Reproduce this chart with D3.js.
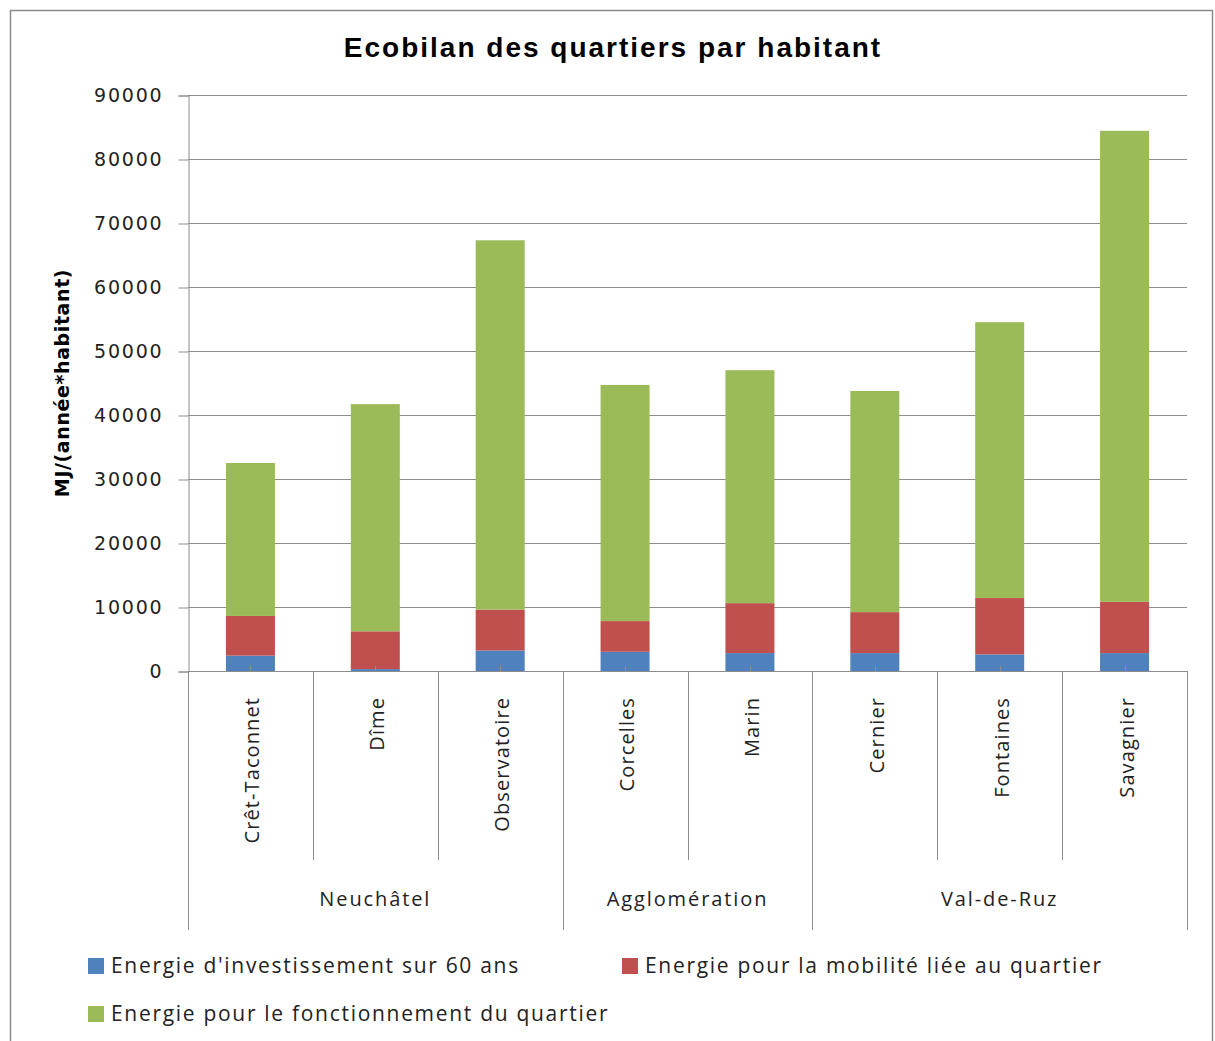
<!DOCTYPE html>
<html>
<head>
<meta charset="utf-8">
<script src="https://cdn.jsdelivr.net/npm/d3@7"></script>
<style>
  html, body { margin: 0; padding: 0; background: #fff; }
  svg { display: block; }
</style>
</head>
<body>
<svg id="chart" width="1215" height="1041"></svg>
<script>
// Neighbourhoods, grouped by area
const categories = ["Crêt-Taconnet", "Dîme", "Observatoire", "Corcelles", "Marin", "Cernier", "Fontaines", "Savagnier"];
const groups = [
  { name: "Neuchâtel", members: ["Crêt-Taconnet", "Dîme", "Observatoire"] },
  { name: "Agglomération", members: ["Corcelles", "Marin"] },
  { name: "Val-de-Ruz", members: ["Cernier", "Fontaines", "Savagnier"] }
];

// MJ per inhabitant and year, one array per energy component
const investissement = [2400, 300, 3200, 3000, 2800, 2800, 2600, 2800];
const mobilite       = [6200, 5900, 6400, 4800, 7800, 6400, 8800, 8000];
const fonctionnement = [23900, 35500, 57700, 36900, 36400, 34550, 43100, 73600];

const seriesNames = [
  "Energie d'investissement sur 60 ans",
  "Energie pour la mobilité liée au quartier",
  "Energie pour le fonctionnement du quartier"
];
const seriesColors = ["#4F81BD", "#C0504D", "#9BBB59"];
const yTicks = [0, 10000, 20000, 30000, 40000, 50000, 60000, 70000, 80000, 90000];

const title = "Ecobilan des quartiers par habitant";
const yTitle = "MJ/(année*habitant)";

const svg = d3.select("#chart");
const plot = { left: 188, right: 1187, top: 95, bottom: 671 };
const gridColor = "#8c8c8c";

// Chart frame
svg.append("rect")
  .attr("x", 10.5).attr("y", 10.5)
  .attr("width", 1202).attr("height", 1045)
  .attr("fill", "none").attr("stroke", "#8a8a8a").attr("stroke-width", 1.5);

const x = d3.scaleBand().domain(categories).range([plot.left, plot.right]).paddingInner(0).paddingOuter(0);
const y = d3.scaleLinear().domain([0, 90000]).range([plot.bottom, plot.top]);
const barW = 49;

// Gridlines
svg.append("g").selectAll("line").data(yTicks).join("line")
  .attr("x1", plot.left).attr("x2", plot.right)
  .attr("y1", d => Math.round(y(d)) + 0.5).attr("y2", d => Math.round(y(d)) + 0.5)
  .attr("stroke", gridColor).attr("stroke-width", 1);

// Y axis
const yAxis = d3.axisLeft(y).tickValues(yTicks).tickSize(10).tickPadding(15).tickFormat(d3.format("d"));
const gy = svg.append("g").attr("transform", `translate(${plot.left + 0.5},0.5)`).call(yAxis);
gy.select(".domain").attr("stroke", gridColor);
gy.selectAll(".tick line").attr("stroke", gridColor);
gy.selectAll(".tick text")
  .attr("font-family", "'DejaVu Sans', Verdana, sans-serif")
  .attr("font-size", 19).attr("letter-spacing", 1.8).attr("fill", "#222");

// Stacked bars
const rows = categories.map((c, i) => ({
  cat: c, s0: investissement[i], s1: mobilite[i], s2: fonctionnement[i]
}));
const stack = d3.stack().keys(["s0", "s1", "s2"]);
const stacked = stack(rows);
svg.append("g").selectAll("g").data(stacked).join("g")
  .attr("fill", (d, i) => seriesColors[i])
  .selectAll("rect").data(d => d).join("rect")
  .attr("x", d => x(d.data.cat) + (x.bandwidth() - barW) / 2)
  .attr("width", barW)
  .attr("y", d => y(d[1]))
  .attr("height", d => y(d[0]) - y(d[1]));

// Category axis: baseline, ticks at centres, dividers
const gx = svg.append("g");
gx.append("line")
  .attr("x1", plot.left).attr("x2", plot.right)
  .attr("y1", plot.bottom + 0.5).attr("y2", plot.bottom + 0.5)
  .attr("stroke", gridColor);
gx.selectAll(".ctick").data(categories).join("line")
  .attr("x1", d => Math.round(x(d) + x.bandwidth() / 2) + 0.5)
  .attr("x2", d => Math.round(x(d) + x.bandwidth() / 2) + 0.5)
  .attr("y1", plot.bottom - 5).attr("y2", plot.bottom)
  .attr("stroke", gridColor);

// Group boundaries run down to the group label row; inner ones stop above it
const groupEdges = [];
let idx = 0;
groups.forEach(g => {
  groupEdges.push(idx);
  idx += g.members.length;
});
groupEdges.push(categories.length);
const edgeX = i => Math.round(i < categories.length ? x(categories[i]) : plot.right) + 0.5;
d3.range(categories.length + 1).forEach(i => {
  const isGroup = groupEdges.includes(i);
  gx.append("line")
    .attr("x1", edgeX(i)).attr("x2", edgeX(i))
    .attr("y1", plot.bottom).attr("y2", isGroup ? 930 : 860)
    .attr("stroke", gridColor);
});

// Category labels (rotated)
gx.selectAll(".clabel").data(categories).join("text")
  .attr("transform", d => `translate(${x(d) + x.bandwidth() / 2 + 2},697) rotate(-90)`)
  .attr("text-anchor", "end")
  .attr("dy", "0.35em")
  .attr("font-family", "'Open Sans', sans-serif")
  .attr("font-size", 20).attr("letter-spacing", 1.1)
  .attr("fill", "#222")
  .text(d => d);

// Group labels
gx.selectAll(".glabel").data(groups).join("text")
  .attr("x", g => (x(g.members[0]) + x(g.members[g.members.length - 1]) + x.bandwidth()) / 2)
  .attr("y", 906)
  .attr("text-anchor", "middle")
  .attr("font-family", "'Open Sans', sans-serif")
  .attr("font-size", 20).attr("letter-spacing", 1.9)
  .attr("fill", "#222")
  .text(g => g.name);

// Title
svg.append("text")
  .attr("x", 613).attr("y", 57)
  .attr("text-anchor", "middle")
  .attr("font-family", "'Liberation Sans', Arial, sans-serif")
  .attr("font-weight", "bold").attr("font-size", 28).attr("letter-spacing", 2)
  .attr("fill", "#000")
  .text(title);

// Y axis title
svg.append("text")
  .attr("transform", "translate(62,383) rotate(-90)")
  .attr("text-anchor", "middle").attr("dy", "0.35em")
  .attr("font-family", "'DejaVu Sans', sans-serif")
  .attr("font-weight", "bold").attr("font-size", 19).attr("letter-spacing", 0.6)
  .attr("fill", "#000")
  .text(yTitle);

// Legend
const legendPos = [[88, 966], [622, 966], [88, 1014]];
const lg = svg.append("g").selectAll("g").data(seriesNames).join("g")
  .attr("transform", (d, i) => `translate(${legendPos[i][0]},${legendPos[i][1]})`);
lg.append("rect").attr("x", 0).attr("y", -8).attr("width", 16).attr("height", 16)
  .attr("fill", (d, i) => seriesColors[i]);
lg.append("text").attr("x", 23).attr("dy", "0.35em")
  .attr("font-family", "'Open Sans', sans-serif")
  .attr("font-size", 21).attr("letter-spacing", 1.7)
  .attr("fill", "#222")
  .text(d => d);
</script>
</body>
</html>
